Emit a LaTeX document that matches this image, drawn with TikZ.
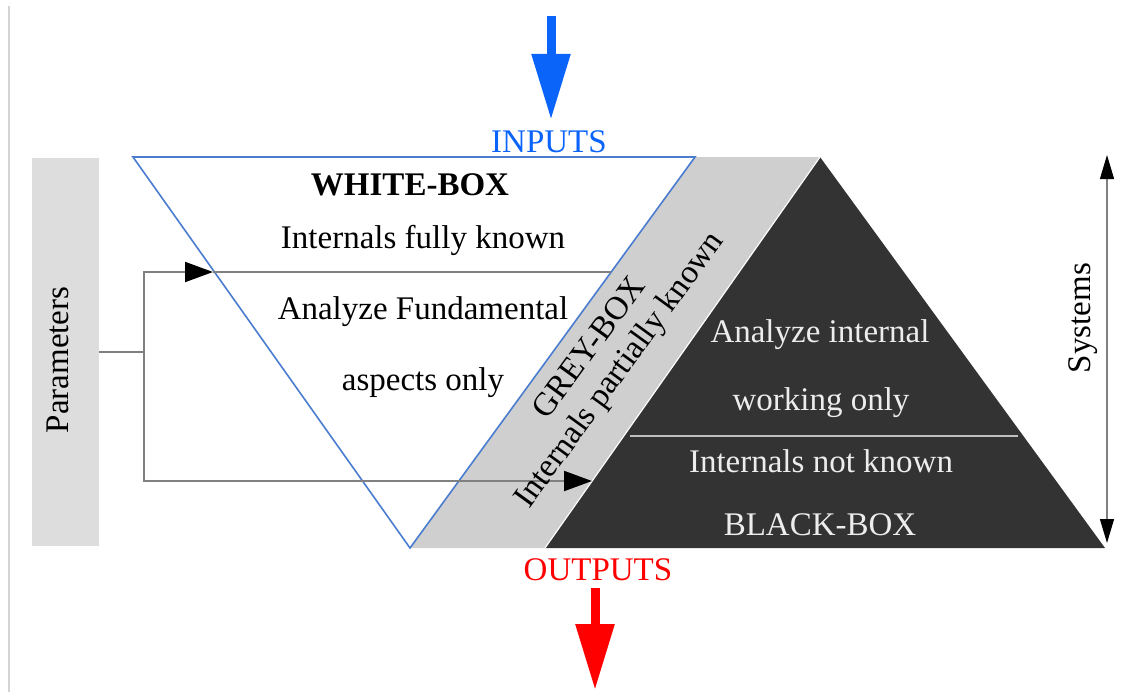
\documentclass[tikz,border=0pt]{standalone}
\usepackage{fontspec}
\setmainfont{Liberation Serif}
\usepackage{xcolor}
\usepackage{tikz}
\usetikzlibrary{arrows.meta,positioning}
\definecolor{inc}{HTML}{0A64FA}
\definecolor{outc}{HTML}{FF0000}
\definecolor{edgec}{HTML}{4A7CCF}
\definecolor{greyc}{HTML}{CFCFCF}
\definecolor{parc}{HTML}{DDDDDD}
\definecolor{darkc}{HTML}{333333}
\definecolor{wirec}{HTML}{808080}
\definecolor{framec}{HTML}{D4D4D4}
\tikzset{
  txt/.style={font=\fontsize{16.5}{18.5}\selectfont,inner sep=0pt,anchor=base},
  wtxt/.style={txt,text=white!93!black},
  wire/.style={wirec,line width=1pt},
  ar/.style={wire,-{Triangle[length=14pt,width=10pt,color=black]}},
  dar/.style={wirec,line width=0.6pt,{Triangle[length=12pt,width=7pt,color=black]}-{Triangle[length=12pt,width=7pt,color=black]}},
  bigar/.style={line width=4.5pt,-{Triangle[length=33pt,width=18.5pt]}}
}

\begin{document}
\begin{tikzpicture}[x=0.5pt,y=-0.5pt]
\useasboundingbox (0,0) rectangle (1129,692);
\draw[framec,line width=1pt] (9,6) -- (9,692);

\fill[greyc] (695,157) -- (820,157) -- (545,548) -- (410,548) -- cycle;
\fill[darkc] (820,157) -- (1105,548) -- (545,548) -- cycle;
\draw[white,line width=0.6pt] (820,157) -- (545,548);
\draw[edgec,line width=0.8pt,fill=white] (133,157) -- (695,157) -- (410,548) -- cycle;
\draw[white!75!black,line width=1pt] (630,436) -- (1018,436);

\node[fill=parc,minimum width=33.5pt,minimum height=194pt,inner sep=0pt] (parbox) at (65.5,352) {};
\node[txt,rotate=90] (par) at (68,360) {Parameters};
\coordinate (br) at (144,352);
\coordinate (t1) at (213,272);
\coordinate (e1) at (611,272);
\coordinate (t2) at (592,481);
\draw[wire] (parbox.east) -- (br);
\draw[ar] (br) |- (t1);
\draw[wire] (t1) -- (e1);
\draw[ar] (br) |- (t2);

\node[txt,font=\fontsize{16.5}{18.5}\selectfont\bfseries] (wb) at (410,195) {WHITE-BOX};
\foreach \n/\x/\y/\t in {ifk/423/248/Internals fully known,afu/423/319/Analyze Fundamental,aso/423/390/aspects only}
 \node[txt] (\n) at (\x,\y) {\t};
\node[txt,anchor=center,rotate=54,align=center] (gb) at (606,360) {GREY-BOX\\Internals partially known};
\foreach \n/\x/\y/\t in {ai/820/342/Analyze internal,wo/821/410/working only,ink/821/472/Internals not known,bb/820/535/BLACK-BOX}
 \node[wtxt] (\n) at (\x,\y) {\t};

\coordinate (stop) at (1107,155);
\coordinate (sbot) at (1107,543);
\draw[dar] (stop) -- (sbot);
\node[txt,rotate=90] (sys) at (1090,318) {Systems};

\node[txt,text=inc] (inp) at (549,152) {INPUTS};
\coordinate (ia) at (551,16);
\draw[bigar,inc,shorten >=5pt] (ia) -- (ia |- inp.north);
\node[txt,text=outc] (outp) at (598,580) {OUTPUTS};
\coordinate (ob) at (595,690);
\draw[bigar,outc,shorten <=3.5pt] (ob |- outp.south) -- (ob);
\end{tikzpicture}
\end{document}
